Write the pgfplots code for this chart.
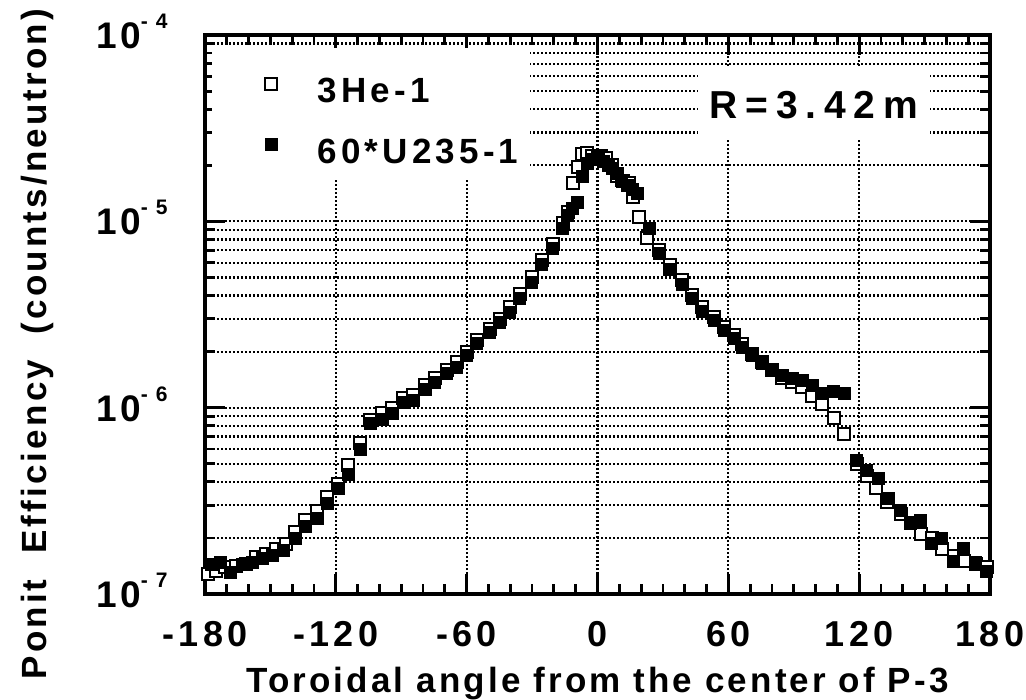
\documentclass[border=0pt]{standalone}
\usepackage{fontspec}
\setmainfont{Liberation Sans}
\newfontfamily\lsa{Liberation Sans}[LetterSpace=12]
\newfontfamily\lsb{Liberation Sans}[LetterSpace=9]
\newfontfamily\lsr{Liberation Sans}[LetterSpace=20]
\usepackage{pgfplots}
\pgfplotsset{compat=1.18}
\pgfplotsset{myleg/.style={legend image code/.code={\path[draw=none,fill=none] (0pt,0pt) rectangle (30pt,12.5pt); \draw[##1] plot coordinates {(23.5pt,3.2pt)};}}}

% tick label 10^n, letter-spaced like the original
\newcommand{\ylab}[1]{{\bfseries\fontsize{18.5}{18.5}\selectfont 1\hspace{1.5pt}0\raisebox{10pt}{\fontsize{10.5}{10.5}\selectfont -\hspace{4pt}#1}}}

\begin{document}
\begin{tikzpicture}
\begin{axis}[
  scale only axis,
  width=392.5pt, height=279.5pt,
  xmin=-180, xmax=180,
  ymode=log, ymin=1e-7, ymax=1e-4,
  xtick={-180,-120,-60,0,60,120,180},
  xticklabels={-180,-120,-60,0,60,120,180},
  minor x tick num=5,
  ytick={1e-7,1e-6,1e-5,1e-4},
  yticklabels={\ylab{7},\ylab{6},\ylab{5},\ylab{4}},
  tick align=inside,
  major tick length=10pt, minor tick length=5pt,
  every tick/.style={black, line width=1.4pt},
  axis line style={line width=1.6pt},
  xmajorgrids, ymajorgrids, yminorgrids,
  major grid style={black, line width=1.1pt, dash pattern=on 0.9pt off 1.1pt},
  minor grid style={black, line width=1.1pt, dash pattern=on 0.9pt off 1.1pt},
  xticklabel style={font=\lsa\bfseries\fontsize{18}{18}\selectfont, anchor=base, yshift=-26pt, inner sep=0pt},
  yticklabel style={anchor=base east, inner sep=0pt, xshift=-18.5pt, yshift=-6.7pt},
  xlabel={Toroidal angle from the center of P-3},
  xlabel style={font=\lsb\bfseries\fontsize{17.5}{17.5}\selectfont, at={(axis description cs:0.5,-0.177)}, anchor=base},
  ylabel={Ponit\ \ Efficiency\ \ (counts/neutron)},
  ylabel style={font=\lsb\bfseries\fontsize{17.5}{17.5}\selectfont, at={(axis description cs:-0.214,0.447)}, anchor=center},
  legend style={at={(axis description cs:0.009,0.977)}, anchor=north west,
    fill=white, draw=none, inner xsep=6pt, inner ysep=8.5pt,
    row sep=11.5pt, column sep=16.5pt,
    font=\lsa\bfseries\fontsize{17.5}{17.5}\selectfont,
    nodes={inner sep=0pt, text height=12.5pt, text depth=0pt}},
  legend cell align=left,
]
\addplot[only marks, mark=square*, mark size=3pt, mark options={fill=white, draw=black, line width=1pt}, myleg]
coordinates {
(-178.5,1.28e-7) (-175,1.33e-7) (-171,1.40e-7) (-166,1.42e-7) (-161,1.45e-7)
(-156.5,1.58e-7) (-152,1.65e-7) (-147.5,1.75e-7) (-143,1.85e-7) (-138.6,2.15e-7)
(-134,2.5e-7) (-128.5,2.8e-7) (-124,3.3e-7) (-118.9,3.9e-7) (-114.4,4.9e-7)
(-108.9,6.5e-7) (-104.3,8.6e-7) (-98.8,9.4e-7) (-94.2,1.0e-6) (-89.2,1.13e-6)
(-84.6,1.17e-6) (-79.1,1.33e-6) (-74.6,1.45e-6) (-69.1,1.6e-6) (-64.5,1.75e-6)
(-59.9,2.0e-6) (-55.4,2.3e-6) (-49.4,2.65e-6) (-44.8,3.0e-6) (-40.3,3.45e-6)
(-35.7,4.1e-6) (-30.2,5.0e-6) (-25.6,6.2e-6) (-20.6,7.6e-6) (-16,9.8e-6)
(-13.7,1.12e-5) (-11.4,1.6e-5) (-9.1,1.95e-5) (-6.9,2.3e-5) (-4.6,2.32e-5)
(-2.3,2.25e-5) (0,2.2e-5) (1.8,2.25e-5) (4.1,2.2e-5) (6.5,2.0e-5)
(9,1.75e-5) (11.5,1.65e-5) (14.6,1.6e-5) (16.5,1.35e-5) (19.2,1.05e-5)
(22.9,8.1e-6) (28.4,7.0e-6) (33.2,5.8e-6) (38.9,4.85e-6) (43.5,4.05e-6)
(48,3.45e-6) (53.5,3.05e-6) (58.1,2.7e-6) (62.7,2.45e-6) (66.3,2.2e-6)
(70.9,1.95e-6) (75.5,1.75e-6) (80.1,1.6e-6) (84.6,1.45e-6) (89.2,1.38e-6)
(93.8,1.29e-6) (98.4,1.16e-6) (102.9,1.05e-6) (108.4,8.8e-7) (113,7.2e-7)
(118.9,5.0e-7) (123.5,4.3e-7) (127.6,3.7e-7) (132.7,3.1e-7) (139,2.7e-7)
(143.6,2.4e-7) (148.2,2.1e-7) (153.2,2.0e-7) (157.8,1.75e-7) (163.3,1.6e-7)
(167.9,1.5e-7) (173.4,1.45e-7) (178.4,1.4e-7)
};
\addlegendentry{3He-1}
\addplot[only marks, mark=square*, mark size=3pt, mark options={fill=black, draw=black}, myleg]
coordinates {
(-177,1.45e-7) (-172.9,1.47e-7) (-168.3,1.30e-7) (-162.9,1.45e-7) (-158.3,1.47e-7)
(-153.7,1.55e-7) (-149,1.62e-7) (-144,1.72e-7) (-138.6,1.99e-7) (-134,2.32e-7)
(-128.5,2.56e-7) (-124,3.08e-7) (-118.9,3.67e-7) (-114.4,4.4e-7) (-108.9,6.0e-7)
(-104.3,8.2e-7) (-98.8,8.7e-7) (-94.2,9.3e-7) (-89.2,1.07e-6) (-84.6,1.09e-6)
(-79.1,1.26e-6) (-74.6,1.36e-6) (-69.1,1.52e-6) (-64.5,1.64e-6) (-59.9,1.9e-6)
(-55.4,2.2e-6) (-49.4,2.53e-6) (-44.8,2.86e-6) (-40.3,3.24e-6) (-35.7,3.86e-6)
(-30.2,4.7e-6) (-25.6,5.9e-6) (-20.6,7.2e-6) (-16,9.2e-6) (-13.7,1.08e-5)
(-11.4,1.17e-5) (-9.1,1.26e-5) (-6.8,1.75e-5) (-4.6,2.05e-5) (-2,2.15e-5)
(0.5,2.2e-5) (2.5,2.1e-5) (5,2.0e-5) (7,1.93e-5) (9,1.8e-5)
(11,1.66e-5) (13.7,1.56e-5) (16,1.48e-5) (18.3,1.41e-5) (23.8,9.2e-6)
(28.4,6.7e-6) (33.2,5.5e-6) (38.9,4.6e-6) (43.5,3.85e-6) (48,3.3e-6)
(53.5,2.94e-6) (58.1,2.6e-6) (62.7,2.35e-6) (66.3,2.1e-6) (70.9,1.9e-6)
(75.5,1.73e-6) (80.1,1.58e-6) (84.6,1.49e-6) (89.2,1.43e-6) (93.8,1.4e-6)
(98.4,1.32e-6) (102.9,1.2e-6) (108.4,1.23e-6) (113,1.19e-6) (118.9,5.2e-7)
(123.5,4.6e-7) (129,4.15e-7) (133.6,3.28e-7) (139,2.8e-7) (143.6,2.38e-7)
(148.2,2.47e-7) (153.2,1.88e-7) (157.8,2.0e-7) (163.3,1.5e-7) (167.9,1.75e-7)
(173.4,1.47e-7) (178.4,1.33e-7)
};
\addlegendentry{60*U235-1}
\node[fill=white, inner xsep=6pt, inner ysep=11pt, text height=14pt, text depth=0pt,
  font=\lsr\bfseries\fontsize{19.5}{19.5}\selectfont] at (axis cs:99.3,4.26e-5) {R=3.42m};
\end{axis}
\pgfresetboundingbox
\path ([shift={(-102.5pt,-52.5pt)}]current axis.south west) rectangle ([shift={(18pt,17.5pt)}]current axis.north east);
\end{tikzpicture}
\end{document}
